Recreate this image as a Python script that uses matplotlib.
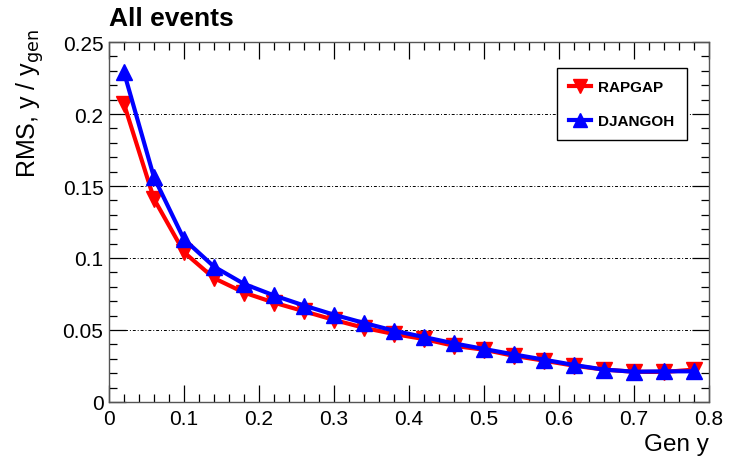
import matplotlib

matplotlib.use("Agg")
import matplotlib.pyplot as plt
from matplotlib.ticker import MultipleLocator

plt.rcParams["font.family"] = ["Liberation Sans", "DejaVu Sans"]

# Generated y bin centres
gen_y = [0.02, 0.06, 0.10, 0.14, 0.18, 0.22, 0.26, 0.30, 0.34, 0.38,
         0.42, 0.46, 0.50, 0.54, 0.58, 0.62, 0.66, 0.70, 0.74, 0.78]
rapgap = [0.207, 0.141, 0.104, 0.086, 0.076, 0.069, 0.063, 0.057, 0.0515, 0.0472,
          0.0437, 0.039, 0.0363, 0.032, 0.0287, 0.0252, 0.0225, 0.021, 0.0208, 0.0225]
djangoh = [0.229, 0.156, 0.113, 0.094, 0.082, 0.074, 0.067, 0.0606, 0.0549, 0.0495,
           0.0451, 0.0407, 0.0368, 0.033, 0.0294, 0.0257, 0.0225, 0.021, 0.0213, 0.0213]

x_ticks = [0, 0.1, 0.2, 0.3, 0.4, 0.5, 0.6, 0.7, 0.8]
x_labels = ["0", "0.1", "0.2", "0.3", "0.4", "0.5", "0.6", "0.7", "0.8"]
y_ticks = [0, 0.05, 0.1, 0.15, 0.2, 0.25]
y_labels = ["0", "0.05", "0.1", "0.15", "0.2", "0.25"]

fig = plt.figure(figsize=(7.29, 4.64), dpi=100)
ax = fig.add_axes([0.1495, 0.1315, 0.8231, 0.7758])

ax.plot(gen_y, rapgap, color="#ff0000", lw=3, marker="v", ms=11,
        label="RAPGAP", zorder=3)
ax.plot(gen_y, djangoh, color="#0000ff", lw=3, marker="^", ms=11,
        label="DJANGOH", zorder=4)

ax.set_xlim(0, 0.8)
ax.set_ylim(0, 0.25)
ax.set_xticks(x_ticks)
ax.set_xticklabels(x_labels)
ax.set_yticks(y_ticks)
ax.set_yticklabels(y_labels)
ax.xaxis.set_minor_locator(MultipleLocator(0.02))
ax.yaxis.set_minor_locator(MultipleLocator(0.01))
ax.tick_params(which="both", direction="in", top=True, right=True, labelsize=15)
ax.tick_params(which="major", length=12, width=0.9)
ax.tick_params(which="minor", length=6, width=0.9)
ax.tick_params(axis="x", pad=5)
ax.tick_params(axis="y", pad=4)
ax.grid(axis="y", which="major", color="black", linestyle=(0, (3, 2, 1, 2)), lw=0.7)
for sp in ax.spines.values():
    sp.set_linewidth(1.0)
    sp.set_color("#555555")

ax.set_xlabel("Gen y", fontsize=17.5, loc="right")
ax.set_ylabel(r"RMS, y / y$_{\rm gen}$", fontsize=18, loc="top")
ax.yaxis.set_label_coords(-0.105, 1.04)
ax.set_title("All events", fontsize=19, fontweight="bold", loc="left", pad=12)

leg = ax.legend(loc="upper right", bbox_to_anchor=(0.963, 0.928),
                prop={"weight": "bold", "size": 11}, fancybox=False,
                framealpha=1, edgecolor="black", borderpad=0.8,
                labelspacing=1.3, handlelength=1.4, handletextpad=0.5,
                borderaxespad=0, markerscale=0.9)
leg.get_frame().set_linewidth(1.0)

fig.savefig("out.png", dpi=100)
